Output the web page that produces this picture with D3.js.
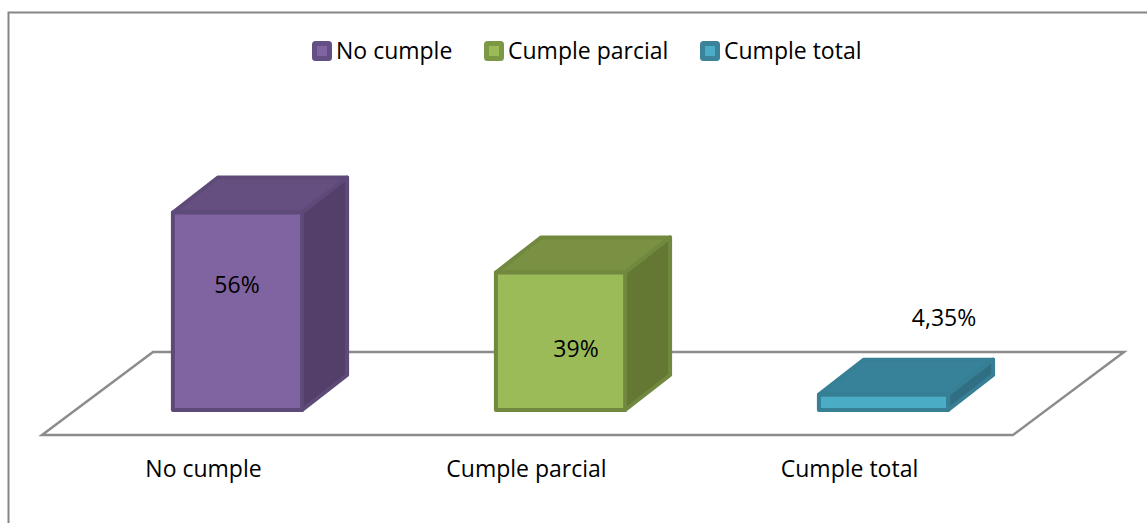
<!DOCTYPE html>
<html>
<head>
<meta charset="utf-8">
<script src="https://cdn.jsdelivr.net/npm/d3@7"></script>
<style>
  html, body { margin: 0; padding: 0; background: #fff; }
  svg { display: block; }
  text { font-family: "Open Sans", sans-serif; fill: #000; }
</style>
</head>
<body>
<svg id="chart" width="1147" height="523"></svg>
<script>
const categories = ["No cumple", "Cumple parcial", "Cumple total"];
const values = [56, 39, 4.35];
const valueLabels = ["56%", "39%", "4,35%"];
const frontColors = ["#8064a2", "#9bbb59", "#4bacc6"];
const topColors = ["#654f80", "#7a9143", "#388299"];
const sideColors = ["#533f69", "#647733", "#306f83"];
const strokeColors = ["#5e4a78", "#71893f", "#367f94"];
const legendStrokes = ["#644f84", "#7c9844", "#3a8399"];
const legendX = [313, 485, 701];
const labelAnchors = [[237, 284], [576, 348], [944, 317]];

const svg = d3.select("#chart");
const width = 1147, height = 523;

// Bars stand on a floor that recedes up and to the right
const depthX = 45, depthY = -35;
const x = d3.scaleBand().domain(categories).range([76, 1045]).paddingInner(0.6).paddingOuter(0.3);
const y = d3.scaleLinear().domain([0, 56]).range([410, 212.5]);

// Chart frame
svg.append("path")
  .attr("d", `M8.5,${height} V12.5 H${width}`)
  .attr("fill", "none").attr("stroke", "#868686").attr("stroke-width", 2);

// Floor
const floor = d3.line()([[42, 435], [1013, 435], [1124, 352], [153, 352]]);
svg.append("path")
  .attr("d", floor + "Z")
  .attr("fill", "#fff").attr("stroke", "#8c8c8c").attr("stroke-width", 2.5);

// Bars: front, top and side faces
const bars = svg.append("g").selectAll("g").data(categories).join("g");
const edge = (d, i) => ({ x0: x(d), x1: x(d) + x.bandwidth(), y0: y(values[i]), y1: y(0) });
const faceStyle = (sel, fills) => sel
  .attr("fill", (d, i) => fills[i])
  .attr("stroke", (d, i) => strokeColors[i])
  .attr("stroke-width", 4)
  .attr("stroke-linejoin", "round");

bars.append("path")
  .attr("d", (d, i) => { const e = edge(d, i);
    return d3.line()([[e.x0, e.y0], [e.x0 + depthX, e.y0 + depthY], [e.x1 + depthX, e.y0 + depthY], [e.x1, e.y0]]) + "Z"; })
  .call(faceStyle, topColors);
bars.append("path")
  .attr("d", (d, i) => { const e = edge(d, i);
    return d3.line()([[e.x1, e.y0], [e.x1 + depthX, e.y0 + depthY], [e.x1 + depthX, e.y1 + depthY], [e.x1, e.y1]]) + "Z"; })
  .call(faceStyle, sideColors);
bars.append("rect")
  .attr("x", d => x(d))
  .attr("y", (d, i) => y(values[i]))
  .attr("width", x.bandwidth())
  .attr("height", (d, i) => y(0) - y(values[i]))
  .call(faceStyle, frontColors);

// Value labels
svg.append("g").selectAll("text").data(valueLabels).join("text")
  .attr("x", (d, i) => labelAnchors[i][0])
  .attr("y", (d, i) => labelAnchors[i][1])
  .attr("text-anchor", "middle").attr("dominant-baseline", "central")
  .attr("font-size", 23)
  .text(d => d);

// Category labels
svg.append("g").selectAll("text").data(categories).join("text")
  .attr("x", d => x(d) + x.bandwidth() / 2 - 34)
  .attr("y", 477)
  .attr("text-anchor", "middle")
  .attr("font-size", 23)
  .text(d => d);

// Legend
const legend = svg.append("g").selectAll("g").data(categories).join("g")
  .attr("transform", (d, i) => `translate(${legendX[i]},41)`);
legend.append("rect")
  .attr("x", 1.5).attr("y", 2.5).attr("width", 15).attr("height", 15).attr("rx", 1)
  .attr("fill", (d, i) => frontColors[i])
  .attr("stroke", (d, i) => legendStrokes[i]).attr("stroke-width", 5)
  .attr("stroke-linejoin", "round");
legend.append("text")
  .attr("x", 23).attr("y", 18)
  .attr("font-size", 23)
  .text(d => d);
</script>
</body>
</html>
